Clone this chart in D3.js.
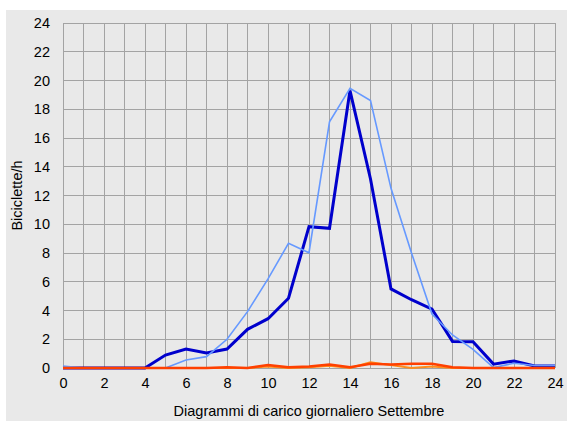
<!DOCTYPE html>
<html><head><meta charset="utf-8">
<script src="https://cdn.jsdelivr.net/npm/d3@7"></script>
<style>html,body{margin:0;padding:0;background:#fff;}svg{display:block;}</style>
</head><body>
<svg id="c" width="567" height="421"></svg>
<script>
const hours = d3.range(0, 25);
const xTicks = [0,2,4,6,8,10,12,14,16,18,20,22,24];
const yTicks = [0,2,4,6,8,10,12,14,16,18,20,22,24];
const seriesDark  = [0,0,0,0,0,0.9,1.32,1.05,1.32,2.69,3.43,4.85,9.83,9.72,19.3,13.15,5.5,4.75,4.1,1.85,1.83,0.27,0.49,0.14,0.14];
const seriesLight = [0.14,0,0,0,0,0,0.56,0.79,2.0,3.92,6.2,8.67,8.02,17.13,19.45,18.6,12.5,8.0,3.76,2.3,1.3,0.03,0.33,0.17,0.17];
const seriesRed   = [0,0,0,0,0,0,0,0,0.05,0,0.2,0.05,0.1,0.25,0.05,0.3,0.25,0.3,0.3,0.05,0,0,0,0,0];
const seriesOrange= [0,0,0,0,0,0,0,0,0,0,0.1,0,0.05,0.15,0,0.4,0.2,0,0.1,0,0,0,0,0,0];
const xLabel = "Diagrammi di carico giornaliero Settembre";
const yLabel = "Biciclette/h";

const svg = d3.select("#c");
svg.append("rect").attr("x",6).attr("y",10).attr("width",561).attr("height",411).attr("fill","#e9e9e9");

const L=63,R=555,T=23,B=368;
const x = d3.scaleLinear().domain([0,24]).range([L,R]);
const y = d3.scaleLinear().domain([0,24]).range([B,T]);

const g = svg.append("g");
g.selectAll("line.v").data(d3.range(0,25)).enter().append("line")
  .attr("x1",d=>x(d)).attr("x2",d=>x(d)).attr("y1",T).attr("y2",B)
  .attr("stroke","#a3a3a3").attr("stroke-width",1).attr("shape-rendering","crispEdges");
g.selectAll("line.h").data(yTicks).enter().append("line")
  .attr("x1",L).attr("x2",R).attr("y1",d=>y(d)).attr("y2",d=>y(d))
  .attr("stroke","#a3a3a3").attr("stroke-width",1).attr("shape-rendering","crispEdges");

const font = "Liberation Sans, Arial, sans-serif";
const yAxis = d3.axisLeft(y).tickValues(yTicks).tickSize(0).tickPadding(13);
const ya = svg.append("g").attr("transform",`translate(${L},0)`).call(yAxis);
ya.select(".domain").remove();
ya.selectAll("text").attr("font-family",font).attr("font-size",14.5).attr("fill","#000");

const xAxis = d3.axisBottom(x).tickValues(xTicks).tickSize(0).tickPadding(10);
const xa = svg.append("g").attr("transform",`translate(0,${B})`).call(xAxis);
xa.select(".domain").remove();
xa.selectAll("text").attr("font-family",font).attr("font-size",14.5).attr("fill","#000");

const line = d3.line().x((d,i)=>x(hours[i])).y(d=>y(d));
function draw(data,color,w){
  svg.append("path").datum(data).attr("d",line).attr("fill","none")
    .attr("stroke",color).attr("stroke-width",w).attr("stroke-linejoin","miter");
}
draw(seriesDark,"#0000cc",3);
draw(seriesLight,"#6699ff",1.6);
draw(seriesOrange,"#ff8c1a",2);
draw(seriesRed,"#ff4000",2.5);

svg.append("text").attr("x",(L+R)/2).attr("y",416).attr("text-anchor","middle")
  .attr("font-family",font).attr("font-size",14.5).text(xLabel);
svg.append("text").attr("transform",`translate(22,${(T+B)/2}) rotate(-90)`).attr("text-anchor","middle")
  .attr("font-family",font).attr("font-size",14.5).text(yLabel);
</script>
</body></html>
